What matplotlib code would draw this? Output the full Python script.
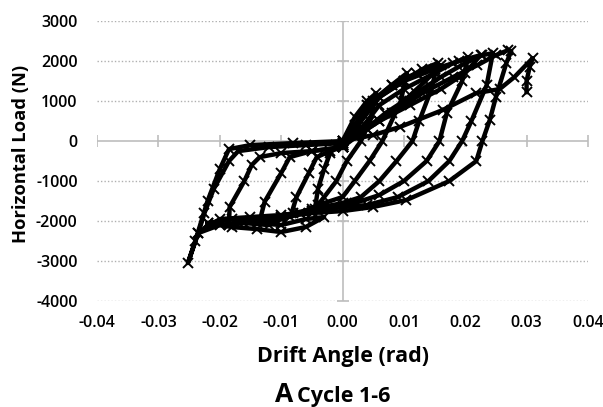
import numpy as np
import matplotlib.pyplot as plt

# drift angle (rad) / horizontal load (N) waypoints, one loop per cycle
c1_x = [0.0, 0.002, 0.004, 0.0055, 0.0045, 0.003, 0.0007, -0.001, -0.003, -0.0045,
        -0.004, -0.003, -0.002, -0.001, 0.0]
c1_y = [0, 600, 1000, 1200, 500, 0, -500, -1000, -1400, -1700,
        -1200, -700, -300, -100, 0]

c2_x = [0.0, 0.002, 0.005, 0.008, 0.0105, 0.0095, 0.0065, 0.0044, 0.002, 0.0, -0.004,
        -0.007, -0.0085, -0.0075, -0.0055, -0.0042, -0.002, 0.0]
c2_y = [-100, 400, 1000, 1400, 1700, 1000, 0, -500, -1000, -1400, -1600,
        -1800, -1900, -1400, -800, -400, -250, -150]

c3_x = [0.0, 0.003, 0.006, 0.010, 0.013, 0.0155, 0.0145, 0.0125, 0.0114, 0.0088, 0.006,
        0.003, 0.0, -0.005, -0.010, -0.0135, -0.0127, -0.010, -0.0086, -0.005, 0.0]
c3_y = [-150, 500, 1100, 1500, 1800, 1950, 1300, 500, 0, -500, -1000,
        -1400, -1550, -1700, -1950, -2000, -1520, -800, -400, -250, -150]

c4_x = [0.0, 0.003, 0.006, 0.010, 0.015, 0.018, 0.0205, 0.0195, 0.017, 0.0158, 0.0137,
        0.010, 0.006, 0.002, -0.003, -0.008, -0.012, -0.016, -0.0185, -0.0184, -0.016,
        -0.0148, -0.0135, -0.010, -0.005, 0.0]
c4_y = [-150, 300, 900, 1300, 1700, 1950, 2100, 1500, 700, 0, -500,
        -1000, -1350, -1550, -1650, -1800, -2100, -2050, -2100, -1650, -1000,
        -600, -400, -300, -250, -150]

c5_x = [0.0, 0.003, 0.007, 0.012, 0.016, 0.020, 0.0228, 0.0245, 0.0235, 0.021, 0.0195,
        0.0174, 0.014, 0.009, 0.004, 0.0, -0.005, -0.010, -0.015, -0.020, -0.0235,
        -0.0225, -0.021, -0.0185, -0.017, -0.012, -0.006, 0.0]
c5_y = [-150, 200, 700, 1200, 1600, 1950, 2150, 2200, 1400, 500, 0,
        -500, -1000, -1400, -1600, -1650, -1750, -1850, -1900, -1950, -2300,
        -1800, -1200, -500, -250, -150, -100, -50]

c6_x = [0.0, 0.004, 0.008, 0.013, 0.018, 0.022, 0.025, 0.027, 0.0275, 0.0267, 0.025,
        0.024, 0.0228, 0.0218, 0.0174, 0.0104, 0.0049, 0.0, -0.005, -0.010, -0.015,
        -0.020, -0.0235, -0.0252, -0.024, -0.022, -0.020, -0.0185, -0.015, -0.008, 0.0]
c6_y = [-50, 300, 700, 1200, 1600, 1900, 2150, 2275, 2250, 1950, 1100,
        525, 0, -500, -1000, -1475, -1650, -1750, -1800, -1900, -2000,
        -2100, -2300, -3050, -2500, -1500, -700, -200, -100, -50, 0]

# repeated inner loops (second pass of each amplitude)
r1_x = [0.0, 0.004, 0.008, 0.012, 0.016, 0.0135, 0.010, 0.006, 0.002, 0.0]
r1_y = [-100, 900, 1400, 1700, 1900, 1500, 1000, 500, 100, -100]
r2_x = [0.002, 0.006, 0.010, 0.015, 0.019, 0.0225, 0.020, 0.016, 0.011, 0.006, 0.002]
r2_y = [300, 1100, 1500, 1800, 2000, 2150, 1700, 1300, 900, 500, 300]
r3_x = [-0.022, -0.018, -0.014, -0.010, -0.006, -0.003, -0.006, -0.010, -0.014, -0.018, -0.022]
r3_y = [-2050, -2150, -2200, -2275, -2150, -1900, -1950, -2100, -2050, -1950, -2050]

# last push to failure
c7_x = [0.0, 0.005, 0.0093, 0.0163, 0.0218, 0.0256, 0.028, 0.031, 0.0305, 0.030, 0.030]
c7_y = [0, 150, 350, 775, 1200, 1300, 1600, 2075, 1850, 1500, 1225]

cycles = [(c1_x, c1_y), (c2_x, c2_y), (c3_x, c3_y), (c4_x, c4_y),
          (c5_x, c5_y), (c6_x, c6_y), (r1_x, r1_y), (r2_x, r2_y), (r3_x, r3_y),
          (c7_x, c7_y)]

xticks = [-0.04, -0.03, -0.02, -0.01, 0.0, 0.01, 0.02, 0.03, 0.04]
xlabels = ['-0.04', '-0.03', '-0.02', '-0.01', '0.00', '0.01', '0.02', '0.03', '0.04']
yticks = [-4000, -3000, -2000, -1000, 0, 1000, 2000, 3000]

plt.rcParams['font.family'] = ['Open Sans', 'DejaVu Sans']
plt.rcParams['axes.unicode_minus'] = False

fig = plt.figure(figsize=(6.03, 4.07), dpi=100)
ax = fig.add_axes([0.161, 0.2604, 0.814, 0.6876])

for y in yticks:
    if y != 0:
        ax.axhline(y, color='#b0b0b0', lw=1, ls=(0, (1, 1.5)), zorder=0)
ax.axhline(0, color='#bdbdbd', lw=1.2, zorder=1)
ax.axvline(0, color='#bdbdbd', lw=1.2, zorder=1)
ax.plot(xticks, np.zeros(len(xticks)), ls='none', marker='|', ms=9, mew=1.2, color='#bdbdbd', zorder=1)
ax.plot(np.zeros(len(yticks)), yticks, ls='none', marker='_', ms=9, mew=1.2, color='#bdbdbd', zorder=1)

for cx, cy in cycles:
    ax.plot(cx, cy, color='black', lw=3.2, marker='x', ms=6.5, mew=1.4, zorder=3)

ax.set_xlim(-0.04, 0.04)
ax.set_ylim(-4000, 3000)
ax.set_xticks(xticks)
ax.set_xticklabels(xlabels)
ax.set_yticks(yticks)
for s in ax.spines.values():
    s.set_visible(False)
ax.tick_params(length=0, labelsize=11.5, pad=14)
ax.tick_params(axis='x', pad=10)
for lab in ax.get_xticklabels() + ax.get_yticklabels():
    lab.set_fontweight('semibold')

fig.text(0.035, 0.622, 'Horizontal Load (N)', fontsize=13.2, fontweight='bold',
         rotation=90, ha='center', va='center')
fig.text(0.568, 0.11, 'Drift Angle (rad)', fontsize=15.5, fontweight='bold',
         ha='center', va='baseline')
fig.text(0.486, 0.012, 'A', fontsize=19, fontweight='bold', ha='right', va='baseline')
fig.text(0.492, 0.012, 'Cycle 1-6', fontsize=15.5, fontweight='bold', ha='left', va='baseline')

fig.savefig('out.png', dpi=100)
